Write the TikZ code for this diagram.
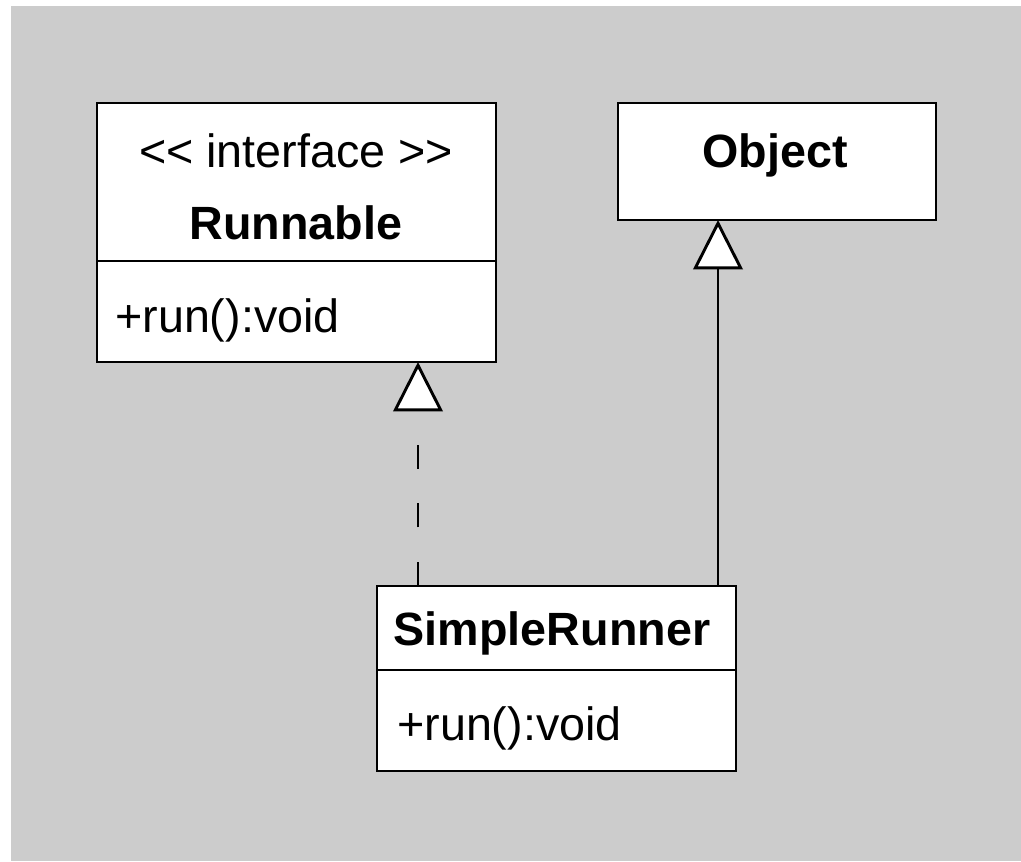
\documentclass[tikz,border=0pt]{standalone}
\usepackage{fontspec}
\setmainfont{Liberation Sans}
\usetikzlibrary{arrows.meta}
\definecolor{canvas}{RGB}{204,204,204}
\tikzset{
  umlbox/.style={draw=black, fill=white, line width=2.2pt, inner sep=0pt, outer sep=0pt, anchor=north west},
  umltext/.style={inner sep=0pt, anchor=base, font=\fontsize{35}{42}\selectfont},
  umlname/.style={umltext, font=\fontsize{35}{42}\selectfont\bfseries},
  member/.style={umltext, anchor=base west},
  inherit/.style={line width=2.2pt, -{Triangle[open, length=37pt, width=37pt, fill=white]}},
  realize/.style={inherit, dash pattern=on 18pt off 26pt},
}
\begin{document}
\begin{tikzpicture}[x=0.75pt, y=-0.75pt]
\useasboundingbox (0,0) rectangle (1021,861);
\fill[white] (0,0) rectangle (1021,861);
\fill[canvas] (11,6) rectangle (1021,861);

% interface Runnable
\node[umlbox, minimum width=299.25pt, minimum height=118.5pt] (runHead) at (97,103) {};
\node[umlbox, minimum width=299.25pt, minimum height=75.75pt] (runMem) at (runHead.south west) {};
\node[umltext] (runStereo) at (296,167) {<{}< interface >{}>};
\node[umlname] (runName) at (296,239) {Runnable};
\node[member] (runOp) at (115,332) {+run():void};

% class Object
\node[umlbox, minimum width=238.5pt, minimum height=87.75pt] (obj) at (618,103) {};
\node[umlname] (objName) at (775,167) {Object};

% class SimpleRunner
\node[umlbox, minimum width=269.25pt, minimum height=63pt] (srHead) at (377,586) {};
\node[umlbox, minimum width=269.25pt, minimum height=75.75pt] (srMem) at (srHead.south west) {};
\node[umlname] (srName) at (552,645) {SimpleRunner};
\node[member] (srOp) at (397,740) {+run():void};

% connectors
\coordinate (implX) at (418,0);
\coordinate (extX) at (718,0);
\draw[realize] (srHead.north -| implX) -- (runMem.south -| implX);
\draw[inherit] (srHead.north -| extX) -- (obj.south -| extX);
\end{tikzpicture}
\end{document}
